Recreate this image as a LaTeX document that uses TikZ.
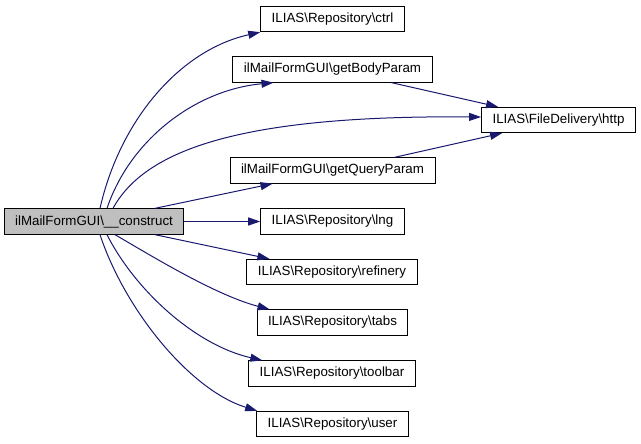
\documentclass[tikz,border=0pt]{standalone}
\usepackage{fontspec}
\setmainfont{Liberation Sans}
\usetikzlibrary{arrows.meta,calc}
\definecolor{edgeblue}{RGB}{25,25,112}

\begin{document}
\begin{tikzpicture}[x=0.75pt,y=-0.75pt,
  fn/.style={draw=black,line width=0.75pt,inner xsep=8.25pt,inner ysep=0pt,
    minimum height=19pt,font=\fontsize{10}{12}\selectfont},
  call/.style={color=edgeblue,line width=0.75pt,-{Triangle[length=9pt,width=6pt]}}]
  \useasboundingbox (0,0) rectangle (641,443);
  \node[fn,fill=black!25] (construct) at (94,221.5) {ilMailFormGUI\textbackslash\_\_construct};
  \node[fn] (ctrl)     at (332.5,19)    {ILIAS\textbackslash Repository\textbackslash ctrl};
  \node[fn] (getbody)  at (332.5,69.5)  {ilMailFormGUI\textbackslash getBodyParam};
  \node[fn] (http)     at (558.5,120)   {ILIAS\textbackslash FileDelivery\textbackslash http};
  \node[fn] (getquery) at (332.5,170.5) {ilMailFormGUI\textbackslash getQueryParam};
  \node[fn] (lng)      at (332.5,221.5) {ILIAS\textbackslash Repository\textbackslash lng};
  \node[fn] (refinery) at (332,272)     {ILIAS\textbackslash Repository\textbackslash refinery};
  \node[fn] (tabs)     at (332.5,322.5) {ILIAS\textbackslash Repository\textbackslash tabs};
  \node[fn] (toolbar)  at (332,373.5)   {ILIAS\textbackslash Repository\textbackslash toolbar};
  \node[fn] (user)     at (332.5,424)   {ILIAS\textbackslash Repository\textbackslash user};
  \begin{scope}[call]
    \draw ($(construct.north)+(6,0)$)  .. controls (120,120) and (180,50) .. (ctrl.south west);
    \draw ($(construct.north)+(13,0)$) .. controls (130,140) and (195,90) .. ($(getbody.south west)+(41,0)$);
    \draw ($(construct.north)+(19,0)$) .. controls (145,150) and (240,115) .. ($(http.west)+(0,-3)$);
    \draw ($(construct.north)+(61,0)$) -- ($(getquery.south west)+(43,0)$);
    \draw (construct) -- (lng);
    \draw ($(construct.south)+(61,0)$) -- ($(refinery.north west)+(23,0)$);
    \draw ($(construct.south)+(21,0)$) .. controls (150,255) and (215,295) .. ($(tabs.north west)+(13,0)$);
    \draw ($(construct.south)+(13,0)$) .. controls (135,290) and (195,345) .. ($(toolbar.north west)+(14,0)$);
    \draw ($(construct.south)+(6,0)$)  .. controls (125,310) and (190,390) .. ($(user.north west)+(1,0)$);
    \draw ($(getbody.south east)+(-41,0)$)  -- ($(http.north west)+(17,0)$);
    \draw ($(getquery.north east)+(-41,0)$) -- ($(http.south west)+(21,0)$);
  \end{scope}
\end{tikzpicture}
\end{document}
